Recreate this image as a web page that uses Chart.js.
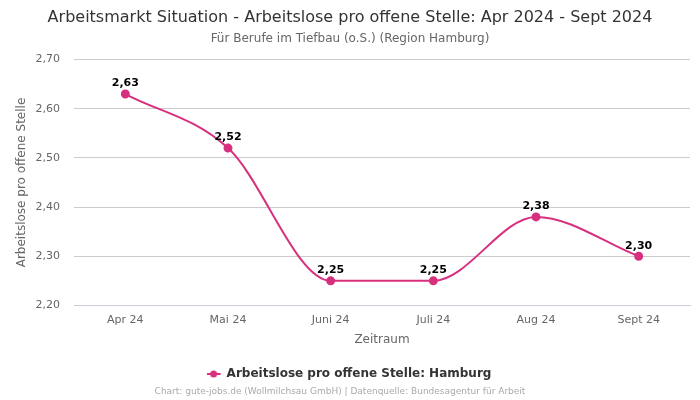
<!DOCTYPE html>
<html>
<head>
  <title>Arbeitslose pro offene Stelle</title>
  <script src="https://cdn.jsdelivr.net/npm/chart.js"></script>
  <style>
    html, body { margin: 0; padding: 0; background: #fff; }
    #wrap { width: 700px; height: 400px; }
  </style>
</head>
<body>
  <div id="wrap">
    <canvas id="chart" width="700" height="400"></canvas>
  </div>

  <script>
    const months = ['Apr 24', 'Mai 24', 'Juni 24', 'Juli 24', 'Aug 24', 'Sept 24'];
    const hamburg = [2.63, 2.52, 2.25, 2.25, 2.38, 2.30];

    const lineColor = 'rgb(214, 48, 126)';
    const fmt = v => v.toFixed(2).replace('.', ',');

    // legend marker: short line with a dot
    const marker = document.createElement('canvas');
    marker.width = 16; marker.height = 10;
    const m = marker.getContext('2d');
    m.strokeStyle = lineColor; m.lineWidth = 2;
    m.beginPath(); m.moveTo(0, 5); m.lineTo(14, 5); m.stroke();
    m.fillStyle = lineColor;
    m.beginPath(); m.arc(7, 5, 3.5, 0, Math.PI * 2); m.fill();

    // draws the value above each point
    const pointLabels = {
      id: 'pointLabels',
      afterDatasetsDraw(chart) {
        const ctx = chart.ctx;
        const meta = chart.getDatasetMeta(0);
        ctx.save();
        ctx.font = 'bold 11px "DejaVu Sans"';
        ctx.fillStyle = '#000';
        ctx.textAlign = 'center';
        ctx.textBaseline = 'bottom';
        meta.data.forEach((pt, i) => {
          ctx.fillText(fmt(hamburg[i]), pt.x, pt.y - 5);
        });
        ctx.restore();
      }
    };

    const footer = {
      id: 'footer',
      afterDraw(chart) {
        const ctx = chart.ctx;
        ctx.save();
        ctx.font = '9px "DejaVu Sans"';
        ctx.fillStyle = '#aaa';
        ctx.textAlign = 'center';
        ctx.textBaseline = 'middle';
        ctx.fillText('Chart: gute-jobs.de (Wollmilchsau GmbH) | Datenquelle: Bundesagentur für Arbeit', 340, 392);
        ctx.restore();
      }
    };

    Chart.defaults.font.family = '"DejaVu Sans", sans-serif';
    Chart.defaults.color = '#666';

    new Chart(document.getElementById('chart'), {
      type: 'line',
      data: {
        labels: months,
        datasets: [{
          label: 'Arbeitslose pro offene Stelle: Hamburg',
          data: hamburg,
          borderColor: lineColor,
          backgroundColor: lineColor,
          borderWidth: 2,
          pointRadius: 3.5,
          pointHoverRadius: 3.5,
          cubicInterpolationMode: 'monotone'
        }]
      },
      options: {
        responsive: false,
        animation: false,
        layout: { padding: { left: 10, right: 10, top: 0, bottom: 10 } },
        plugins: {
          title: {
            display: true,
            text: 'Arbeitsmarkt Situation - Arbeitslose pro offene Stelle: Apr 2024 - Sept 2024',
            color: '#333',
            font: { size: 16, weight: 'normal' },
            padding: { top: 8, bottom: 4 }
          },
          subtitle: {
            display: true,
            text: 'Für Berufe im Tiefbau (o.S.) (Region Hamburg)',
            color: '#666',
            font: { size: 12 },
            padding: { bottom: 14 }
          },
          legend: {
            position: 'bottom',
            labels: {
              color: '#333',
              font: { size: 12, weight: 'bold' },
              usePointStyle: true,
              pointStyle: marker,
              padding: 15
            }
          },
          tooltip: { enabled: false }
        },
        scales: {
          x: {
            offset: true,
            grid: { display: false },
            border: { display: true, color: '#c9cdd9' },
            ticks: { font: { size: 11 }, color: '#666', padding: 0 },
            title: { display: true, text: 'Zeitraum', font: { size: 12 }, color: '#666', padding: { top: 6, bottom: 6 } }
          },
          y: {
            min: 2.2,
            max: 2.7,
            border: { display: false },
            grid: { color: '#ccc', drawTicks: false },
            ticks: { stepSize: 0.1, font: { size: 11 }, color: '#666', padding: 14, callback: v => fmt(v) },
            title: { display: true, text: 'Arbeitslose pro offene Stelle', font: { size: 12 }, color: '#666', padding: { top: 5, bottom: 0 } },
            afterFit(scale) { scale.width = 64; }
          }
        }
      },
      plugins: [pointLabels, footer]
    });
  </script>
</body>
</html>
